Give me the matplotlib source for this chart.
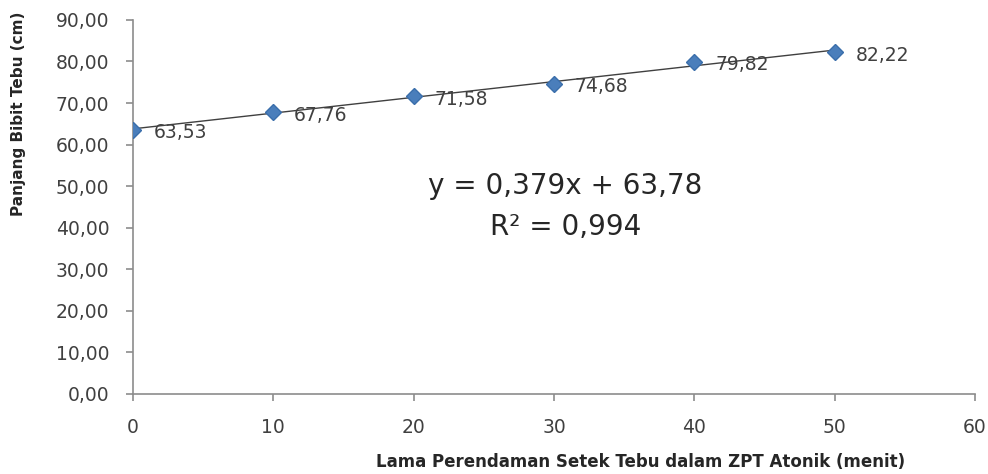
import numpy as np
import matplotlib
matplotlib.use("Agg")
import matplotlib.pyplot as plt

plt.rcParams['font.family'] = ['DejaVu Sans']

lama = [0, 10, 20, 30, 40, 50]
panjang = [63.53, 67.76, 71.58, 74.68, 79.82, 82.22]
label_titik = ['63,53', '67,76', '71,58', '74,68', '79,82', '82,22']

def koma(v, pos):
    return f"{v:.2f}".replace('.', ',')

fig = plt.figure(figsize=(9.88, 4.74), dpi=100)
ax = fig.add_axes([0.1346, 0.169, 0.8523, 0.789])

# garis tren linear
a, b = np.polyfit(lama, panjang, 1)
xs = np.array([lama[0], lama[-1]])
ax.plot(xs, a * xs + b, color='#404040', lw=1.0, zorder=2)

ax.plot(lama, panjang, linestyle='none', marker='D', markersize=8,
        color='#4A7EBB', markeredgecolor='#3A6EAB', zorder=3)

for x, y, t in zip(lama, panjang, label_titik):
    ax.annotate(t, (x, y), xytext=(15, -2), textcoords='offset points',
                fontsize=13.5, color='#404040', va='center', ha='left')

ax.text(30.8, 50.0, 'y = 0,379x + 63,78', ha='center', va='center',
        fontsize=20, color='#262626')
ax.text(30.8, 40.2, 'R² = 0,994', ha='center', va='center',
        fontsize=20, color='#262626')

ax.set_xlim(0, 60)
ax.set_ylim(0, 90)
ax.set_xticks(range(0, 61, 10))
ax.set_yticks(range(0, 91, 10))
ax.yaxis.set_major_formatter(plt.FuncFormatter(koma))

for s in ['top', 'right']:
    ax.spines[s].set_visible(False)
for s in ['left', 'bottom']:
    ax.spines[s].set_color('#8C8C8C')
    ax.spines[s].set_linewidth(1.2)
ax.tick_params(axis='both', colors='#8C8C8C', labelcolor='#404040',
               labelsize=13.5, length=5, width=1.2)
ax.tick_params(axis='x', pad=12)
ax.tick_params(axis='y', pad=12)

fig.text(0.648, 0.025, 'Lama Perendaman Setek Tebu dalam ZPT Atonik (menit)',
         ha='center', va='center', fontsize=12, fontweight='bold', color='#262626')
fig.text(0.019, 0.76, 'Panjang Bibit Tebu (cm)', rotation=90,
         ha='center', va='center', fontsize=11, fontweight='bold', color='#262626')

fig.savefig('out.png', dpi=100)
